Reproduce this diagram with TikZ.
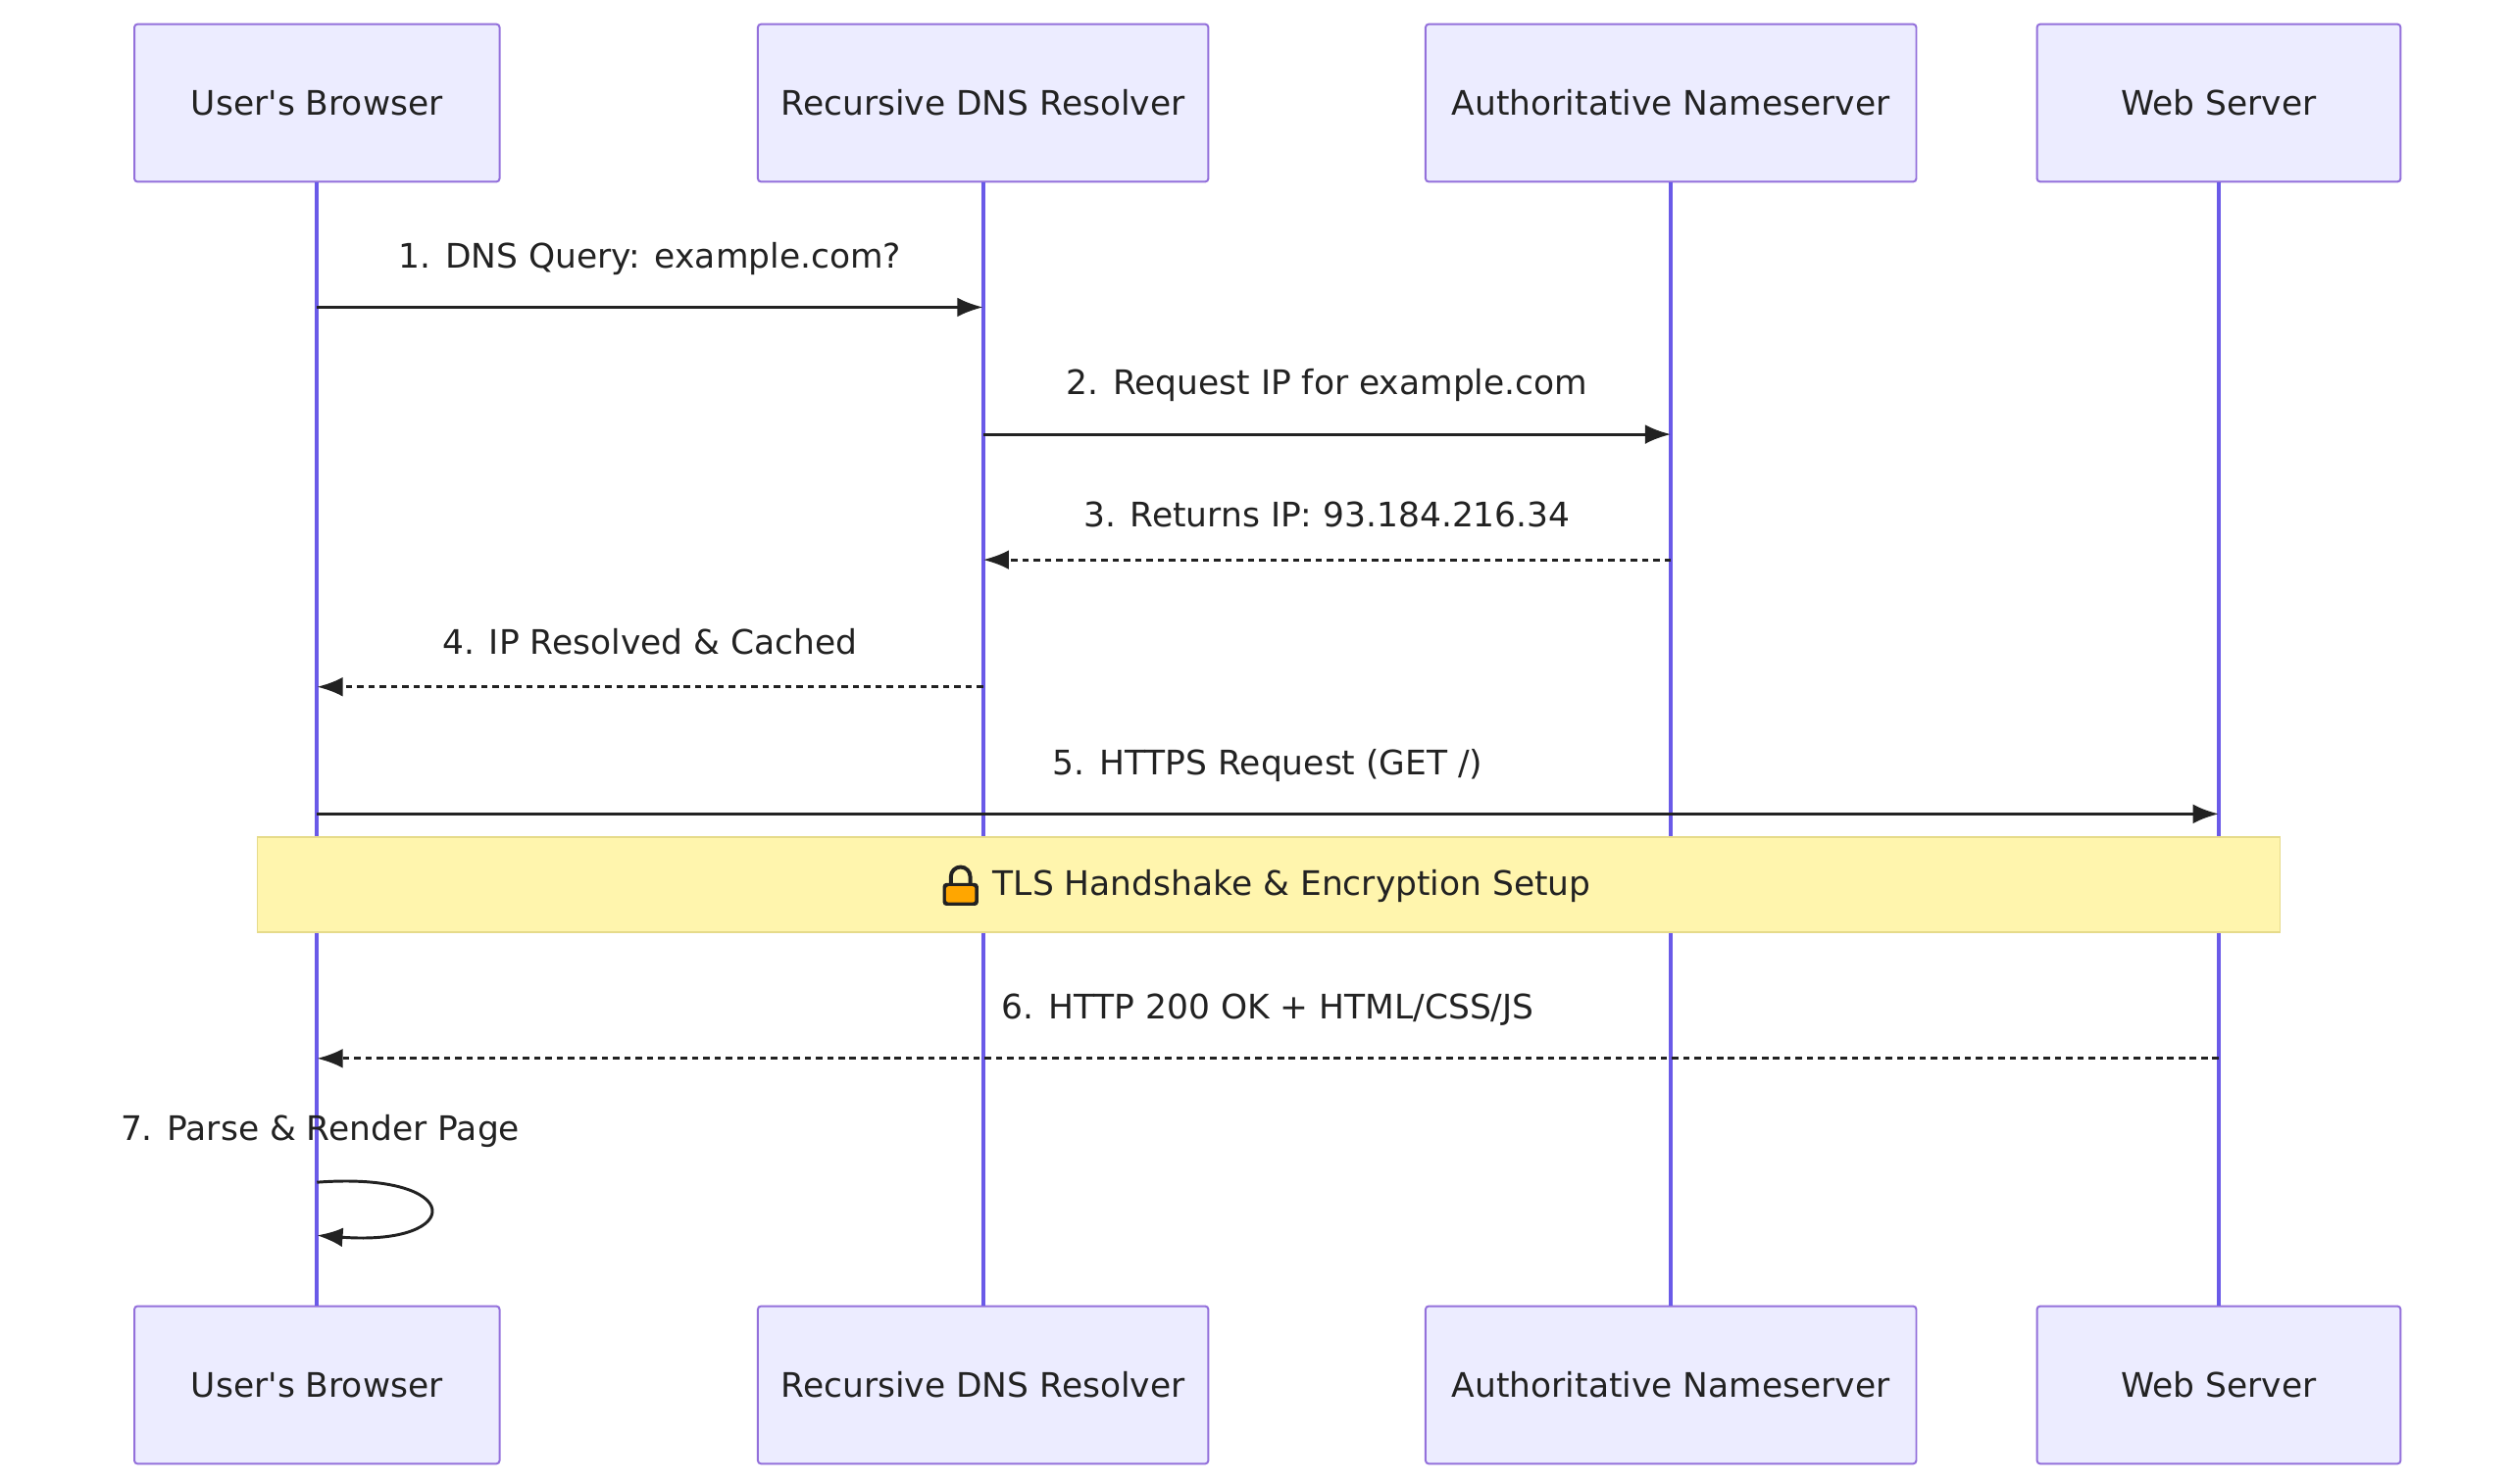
\documentclass[tikz,border=0pt]{standalone}
\usepackage{fontspec}
\setmainfont{DejaVu Sans}
\usetikzlibrary{arrows.meta}
\definecolor{actfill}{HTML}{ECECFF}
\definecolor{actdraw}{HTML}{9370DB}
\definecolor{life}{HTML}{6A5AE8}
\definecolor{notefill}{HTML}{FFF5AD}
\definecolor{notedraw}{HTML}{E6DB8A}
\definecolor{ink}{HTML}{222222}
\begin{document}
\begin{tikzpicture}[x=1pt,y=-1pt,
  actor/.style={draw=actdraw,fill=actfill,line width=1.2pt,rounded corners=2pt,minimum height=98pt,text=ink,font=\fontsize{21}{24}\selectfont},
  life/.style={draw=life,line width=2.4pt},
  msg/.style={draw=ink,line width=1.8pt,-{Latex[length=16pt,width=12pt]}},
  rep/.style={msg,dash pattern=on 4pt off 3pt},
  lbl/.style={text=ink,font=\fontsize{21}{24}\selectfont}]
\useasboundingbox (0,0) rectangle (1560,922);
\foreach \n/\x/\w/\t in {a/197/227/User\textquotesingle s Browser,b/611/280/Recursive DNS Resolver,c/1038.5/305/Authoritative Nameserver,d/1379/226/Web Server}{
  \node[actor,minimum width=\w pt] (\n t) at (\x,64) {\t};
  \node[actor,minimum width=\w pt] (\n b) at (\x,861) {\t};
  \draw[life] (\n t.south) -- (\n b.north);
}
\draw[msg] (at.south |- 0,191) -- (bt.south |- 0,191) node[pos=0.5,lbl,above=16pt] {1. DNS Query: example.com?};
\draw[msg] (bt.south |- 0,270) -- (ct.south |- 0,270) node[pos=0.5,lbl,above=16pt] {2. Request IP for example.com};
\draw[rep] (ct.south |- 0,348) -- (bt.south |- 0,348) node[pos=0.5,lbl,above=16pt] {3. Returns IP: 93.184.216.34};
\draw[rep] (bt.south |- 0,427) -- (at.south |- 0,427) node[pos=0.5,lbl,above=16pt] {4. IP Resolved \& Cached};
\draw[msg] (at.south |- 0,506) -- (dt.south |- 0,506) node[pos=0.5,lbl,above=16pt] {5. HTTPS Request (GET /)};
\node[draw=notedraw,fill=notefill,line width=1pt,minimum width=1257pt,minimum height=59pt] (note) at (788.5,550) {};
\node[lbl,anchor=west,inner sep=0pt] (notetext) at (617,551) {TLS Handshake \& Encryption Setup};
\begin{scope}[shift={(597,551)}]
  \draw[ink,line width=2.4pt] (-6,0) -- (-6,-6) arc[start angle=180,end angle=360,radius=6] -- (6,0);
  \fill[ink,rounded corners=2pt] (-11,-2) rectangle (11,12);
  \fill[orange!70!yellow,rounded corners=1.5pt] (-9,0) rectangle (9,10);
\end{scope}
\draw[rep] (dt.south |- 0,658) -- (at.south |- 0,658) node[pos=0.5,lbl,above=16pt] {6. HTTP 200 OK + HTML/CSS/JS};
\coordinate (s1) at (at.south |- 0,735);
\coordinate (s2) at (at.south |- 0,768);
\node[lbl] (l7) at (199,703) {7. Parse \& Render Page};
\draw[msg] (s1) .. controls (290,728) and (290,775) .. (s2);
\end{tikzpicture}
\end{document}
